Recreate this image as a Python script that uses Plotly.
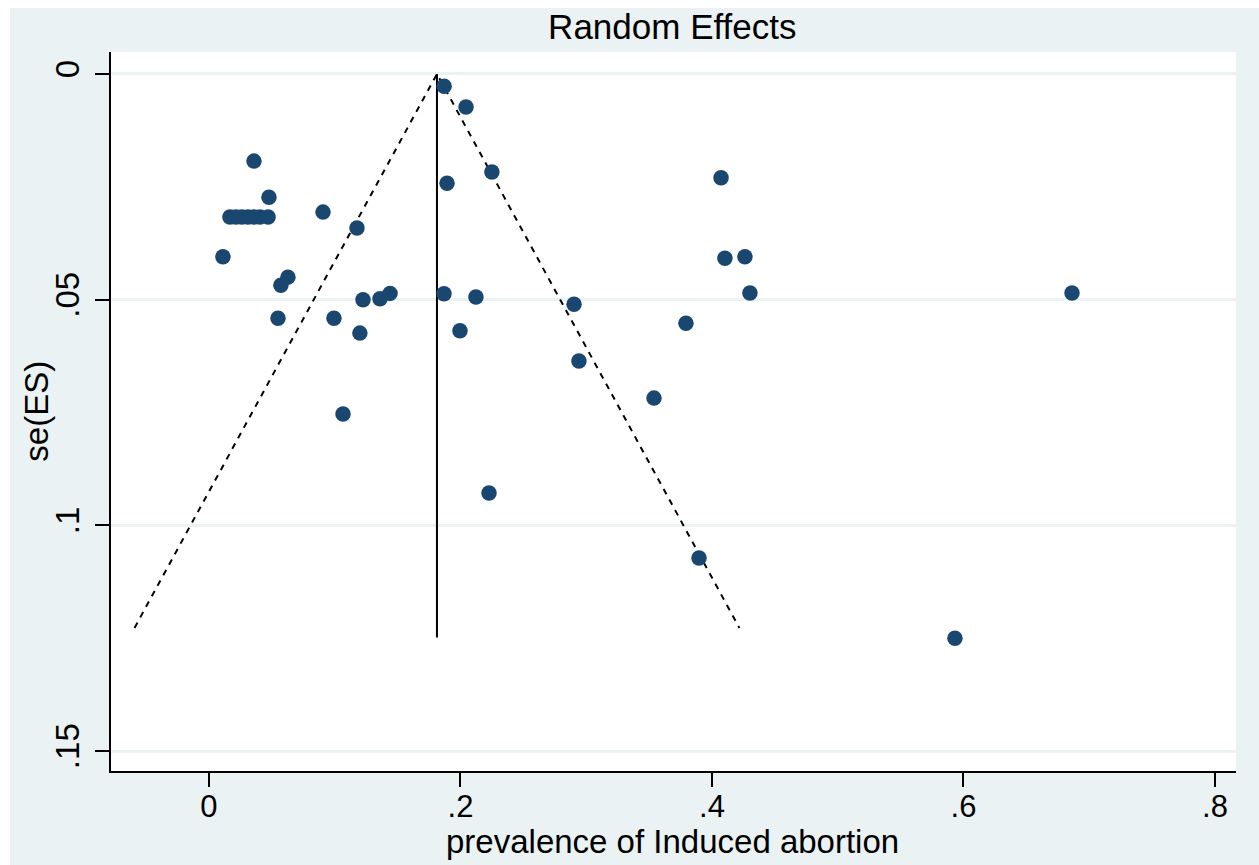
import plotly.graph_objects as go

# Study-level estimates: prevalence (ES) and its standard error se(ES)
es = [0.187, 0.2044, 0.0358, 0.1893, 0.2250, 0.4072, 0.0477,
      0.0167, 0.0215, 0.0262, 0.0310, 0.0358, 0.0406, 0.0470,
      0.0907, 0.1177, 0.0111, 0.0628, 0.0572, 0.0549, 0.1225,
      0.1360, 0.1440, 0.0994, 0.1200, 0.1869, 0.2123, 0.1996,
      0.2903, 0.2942, 0.3793, 0.4103, 0.4262, 0.4302, 0.6863,
      0.1066, 0.3539, 0.2227, 0.3897, 0.5932]
se = [0.0027, 0.0073, 0.0193, 0.0242, 0.0217, 0.0230, 0.0273,
      0.0317, 0.0317, 0.0317, 0.0317, 0.0317, 0.0317, 0.0317,
      0.0306, 0.0341, 0.0405, 0.0450, 0.0468, 0.0541, 0.0500,
      0.0498, 0.0486, 0.0541, 0.0574, 0.0487, 0.0494, 0.0569,
      0.0510, 0.0636, 0.0552, 0.0408, 0.0405, 0.0485, 0.0485,
      0.0753, 0.0718, 0.0928, 0.1072, 0.1250]

# Pooled random-effects estimate and funnel extent
pooled = 0.1813
se_line_max = 0.1248
se_ci_max = 0.1227
z = 1.96

x_ticks = [0, 0.2, 0.4, 0.6, 0.8]
x_tick_text = ["0", ".2", ".4", ".6", ".8"]
y_ticks = [0, 0.05, 0.1, 0.15]
y_tick_text = ["0", ".05", ".1", ".15"]

BG = "#EAF2F3"
NAVY = "#1A476F"
FONT = "Liberation Sans, Arial, sans-serif"

fig = go.Figure()

# pseudo 95% confidence limits
fig.add_trace(go.Scatter(
    x=[pooled - z * se_ci_max, pooled, pooled + z * se_ci_max],
    y=[se_ci_max, 0, se_ci_max],
    mode="lines",
    line=dict(color="black", width=2, dash="6px,6px"),
    hoverinfo="skip", showlegend=False))

# pooled estimate
fig.add_trace(go.Scatter(
    x=[pooled, pooled], y=[0, se_line_max],
    mode="lines", line=dict(color="black", width=2),
    hoverinfo="skip", showlegend=False))

# studies
fig.add_trace(go.Scatter(
    x=es, y=se, mode="markers",
    marker=dict(color=NAVY, size=15.5, symbol="circle", line=dict(width=0)),
    showlegend=False))

fig.update_layout(
    width=1259, height=865, autosize=False,
    margin=dict(l=111, r=23, t=52, b=94),
    paper_bgcolor="white", plot_bgcolor="rgba(0,0,0,0)",
    font=dict(family=FONT, color="black", size=33),
    title=dict(text="Random Effects", x=0.534, xanchor="center",
               y=0.969, yanchor="middle", font=dict(size=35, family=FONT)),
    shapes=[
        dict(type="rect", xref="paper", yref="paper", layer="below",
             x0=-0.0898, x1=1.03, y0=-0.14, y1=1.0612,
             fillcolor=BG, line=dict(width=0)),
        dict(type="rect", xref="paper", yref="paper", layer="below",
             x0=0, x1=1, y0=0, y1=1,
             fillcolor="white", line=dict(width=0)),
    ],
    annotations=[
        dict(text="prevalence of Induced abortion", xref="paper", yref="paper",
             x=0.499, y=-0.0975, xanchor="center", yanchor="middle",
             showarrow=False, font=dict(size=33, family=FONT)),
        dict(text="se(ES)", xref="paper", yref="paper",
             x=-0.0665, y=0.5, xanchor="center", yanchor="middle",
             textangle=-90, showarrow=False, font=dict(size=33, family=FONT)),
    ],
)

fig.update_xaxes(
    range=[-0.0779, 0.8167], tickvals=x_ticks, ticktext=x_tick_text,
    showgrid=False, zeroline=False,
    showline=True, linecolor="black", linewidth=2,
    ticks="outside", ticklen=14, tickwidth=2, tickcolor="black",
    ticklabelstandoff=-7, tickfont=dict(size=31, family=FONT))

fig.update_yaxes(
    range=[0.1544, -0.00487], tickvals=y_ticks, ticktext=y_tick_text,
    showgrid=True, gridcolor=BG, gridwidth=3, zeroline=False,
    showline=True, linecolor="black", linewidth=2,
    ticks="outside", ticklen=14, tickwidth=2, tickcolor="black",
    tickangle=-90, ticklabelstandoff=3, tickfont=dict(size=33, family=FONT))

fig.write_html("out.html")
